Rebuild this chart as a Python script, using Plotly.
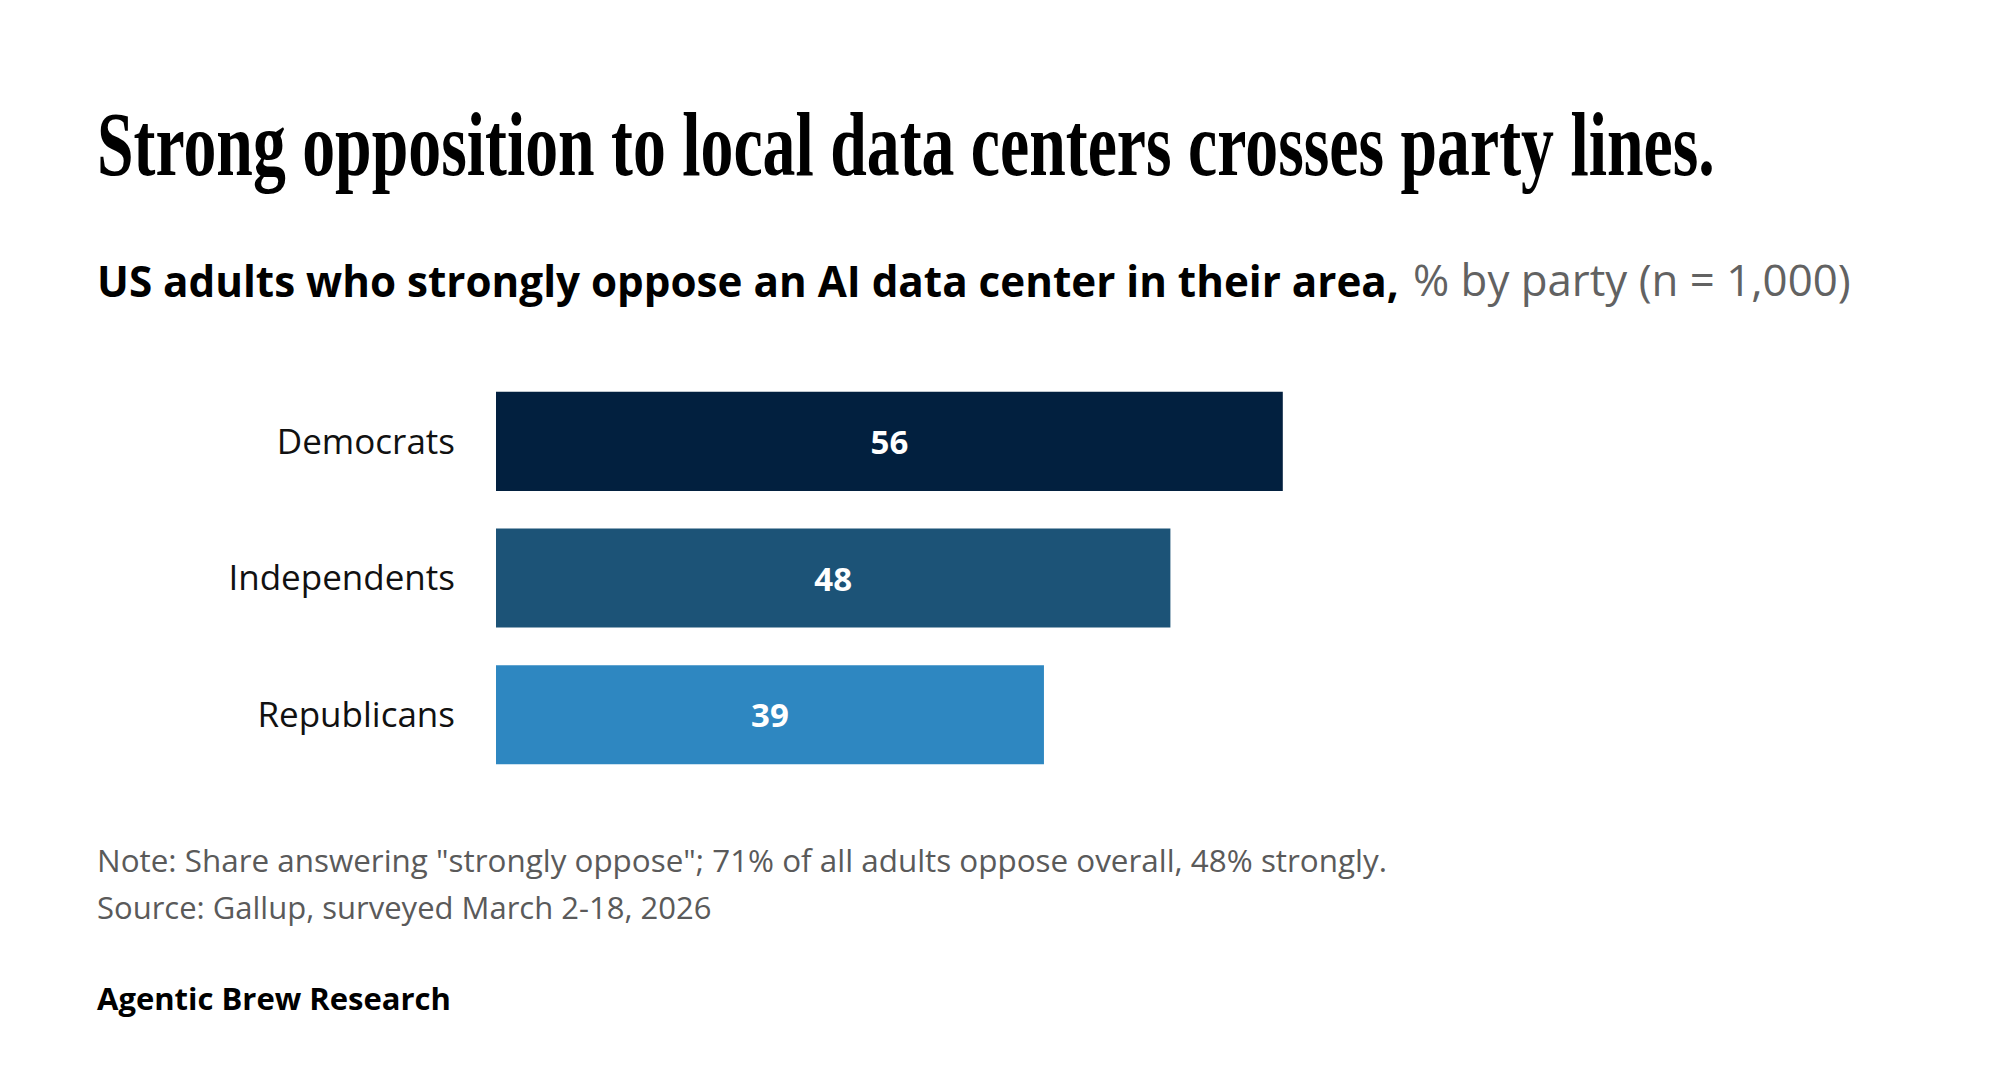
import plotly.graph_objects as go

# ---- data ----
parties = ["Democrats", "Independents", "Republicans"]
strongly_oppose_pct = [56, 48, 39]

title_text = "Strong opposition to local data centers crosses party lines."
subtitle_bold = "US adults who strongly oppose an AI data center in their area,"
subtitle_rest = "% by party (n = 1,000)"
note_text = 'Note: Share answering "strongly oppose"; 71% of all adults oppose overall, 48% strongly.'
source_text = "Source: Gallup, surveyed March 2-18, 2026"
brand_text = "Agentic Brew Research"

# ---- styles ----
BAR_COLORS = ["#02203f", "#1c5377", "#2e87c1"]
SANS = "Open Sans"
SERIF = "Liberation Serif"

W, H = 2000, 1092
M_L, M_R, M_T, M_B = 496, 661, 373, 309
X_MAX = 60
PLOT_W = W - M_L - M_R
PLOT_H = H - M_T - M_B
TITLE_WIDTH_PX = 1618  # condensed-title target width


def px_x(p):
    return (p - M_L) / PLOT_W


def px_y(p):
    return (H - M_B - p) / PLOT_H


fig = go.Figure()
fig.add_trace(go.Bar(
    x=strongly_oppose_pct,
    y=parties,
    orientation="h",
    marker=dict(color=BAR_COLORS, line=dict(width=0)),
    width=0.725,
    text=strongly_oppose_pct,
    texttemplate="%{text}",
    textposition="inside",
    insidetextanchor="middle",
    textangle=0,
    textfont=dict(family=SANS, size=33, color="white", weight=700),
    hoverinfo="skip",
))

annotations = [
    dict(text=title_text, x=px_x(95), y=px_y(197), xanchor="left", yanchor="bottom",
         font=dict(family=SERIF, size=92, color="#000000", weight=700)),
    dict(text=subtitle_bold,
         x=px_x(95), y=px_y(311), xanchor="left", yanchor="bottom",
         font=dict(family=SANS, size=42.2, color="#000000", weight=700)),
    dict(text=subtitle_rest,
         x=px_x(1411), y=px_y(311), xanchor="left", yanchor="bottom",
         font=dict(family=SANS, size=43.8, color="#626262", weight=400)),
    dict(text=note_text, x=px_x(95), y=px_y(883), xanchor="left", yanchor="bottom",
         font=dict(family=SANS, size=31.4, color="#5a5a5a")),
    dict(text=source_text, x=px_x(95), y=px_y(930), xanchor="left", yanchor="bottom",
         font=dict(family=SANS, size=31, color="#5a5a5a")),
    dict(text=brand_text, x=px_x(95), y=px_y(1021), xanchor="left", yanchor="bottom",
         font=dict(family=SANS, size=31, color="#000000", weight=700)),
]
for a in annotations:
    a.update(xref="paper", yref="paper", showarrow=False, align="left")

fig.update_layout(
    width=W, height=H,
    margin=dict(l=M_L, r=M_R, t=M_T, b=M_B, pad=0),
    paper_bgcolor="white", plot_bgcolor="white",
    showlegend=False,
    annotations=annotations,
    xaxis=dict(range=[0, X_MAX], visible=False, fixedrange=True),
    yaxis=dict(
        autorange="reversed", showgrid=False, zeroline=False, showline=False,
        ticks="", ticklabelstandoff=40,
        tickfont=dict(family=SANS, size=35, color="#111111"),
        fixedrange=True,
    ),
)

# Condense the serif headline horizontally (the original uses a condensed serif face)
post_js = """
(function(){
  var gd = document.getElementById('{plot_id}');
  function squeeze(){
    var t = gd.querySelector('.annotation[data-index="0"] text.annotation-text');
    if(!t) return;
    t.removeAttribute('transform');
    var bb = t.getBBox();
    if(!bb.width) return;
    var sx = %d / bb.width;
    t.setAttribute('transform', 'translate(' + (bb.x*(1-sx)) + ',0) scale(' + sx + ',1)');
  }
  squeeze();
  gd.on('plotly_afterplot', squeeze);
})();
""" % TITLE_WIDTH_PX

fig.write_html("out.html", config={"displayModeBar": False}, post_script=post_js)
